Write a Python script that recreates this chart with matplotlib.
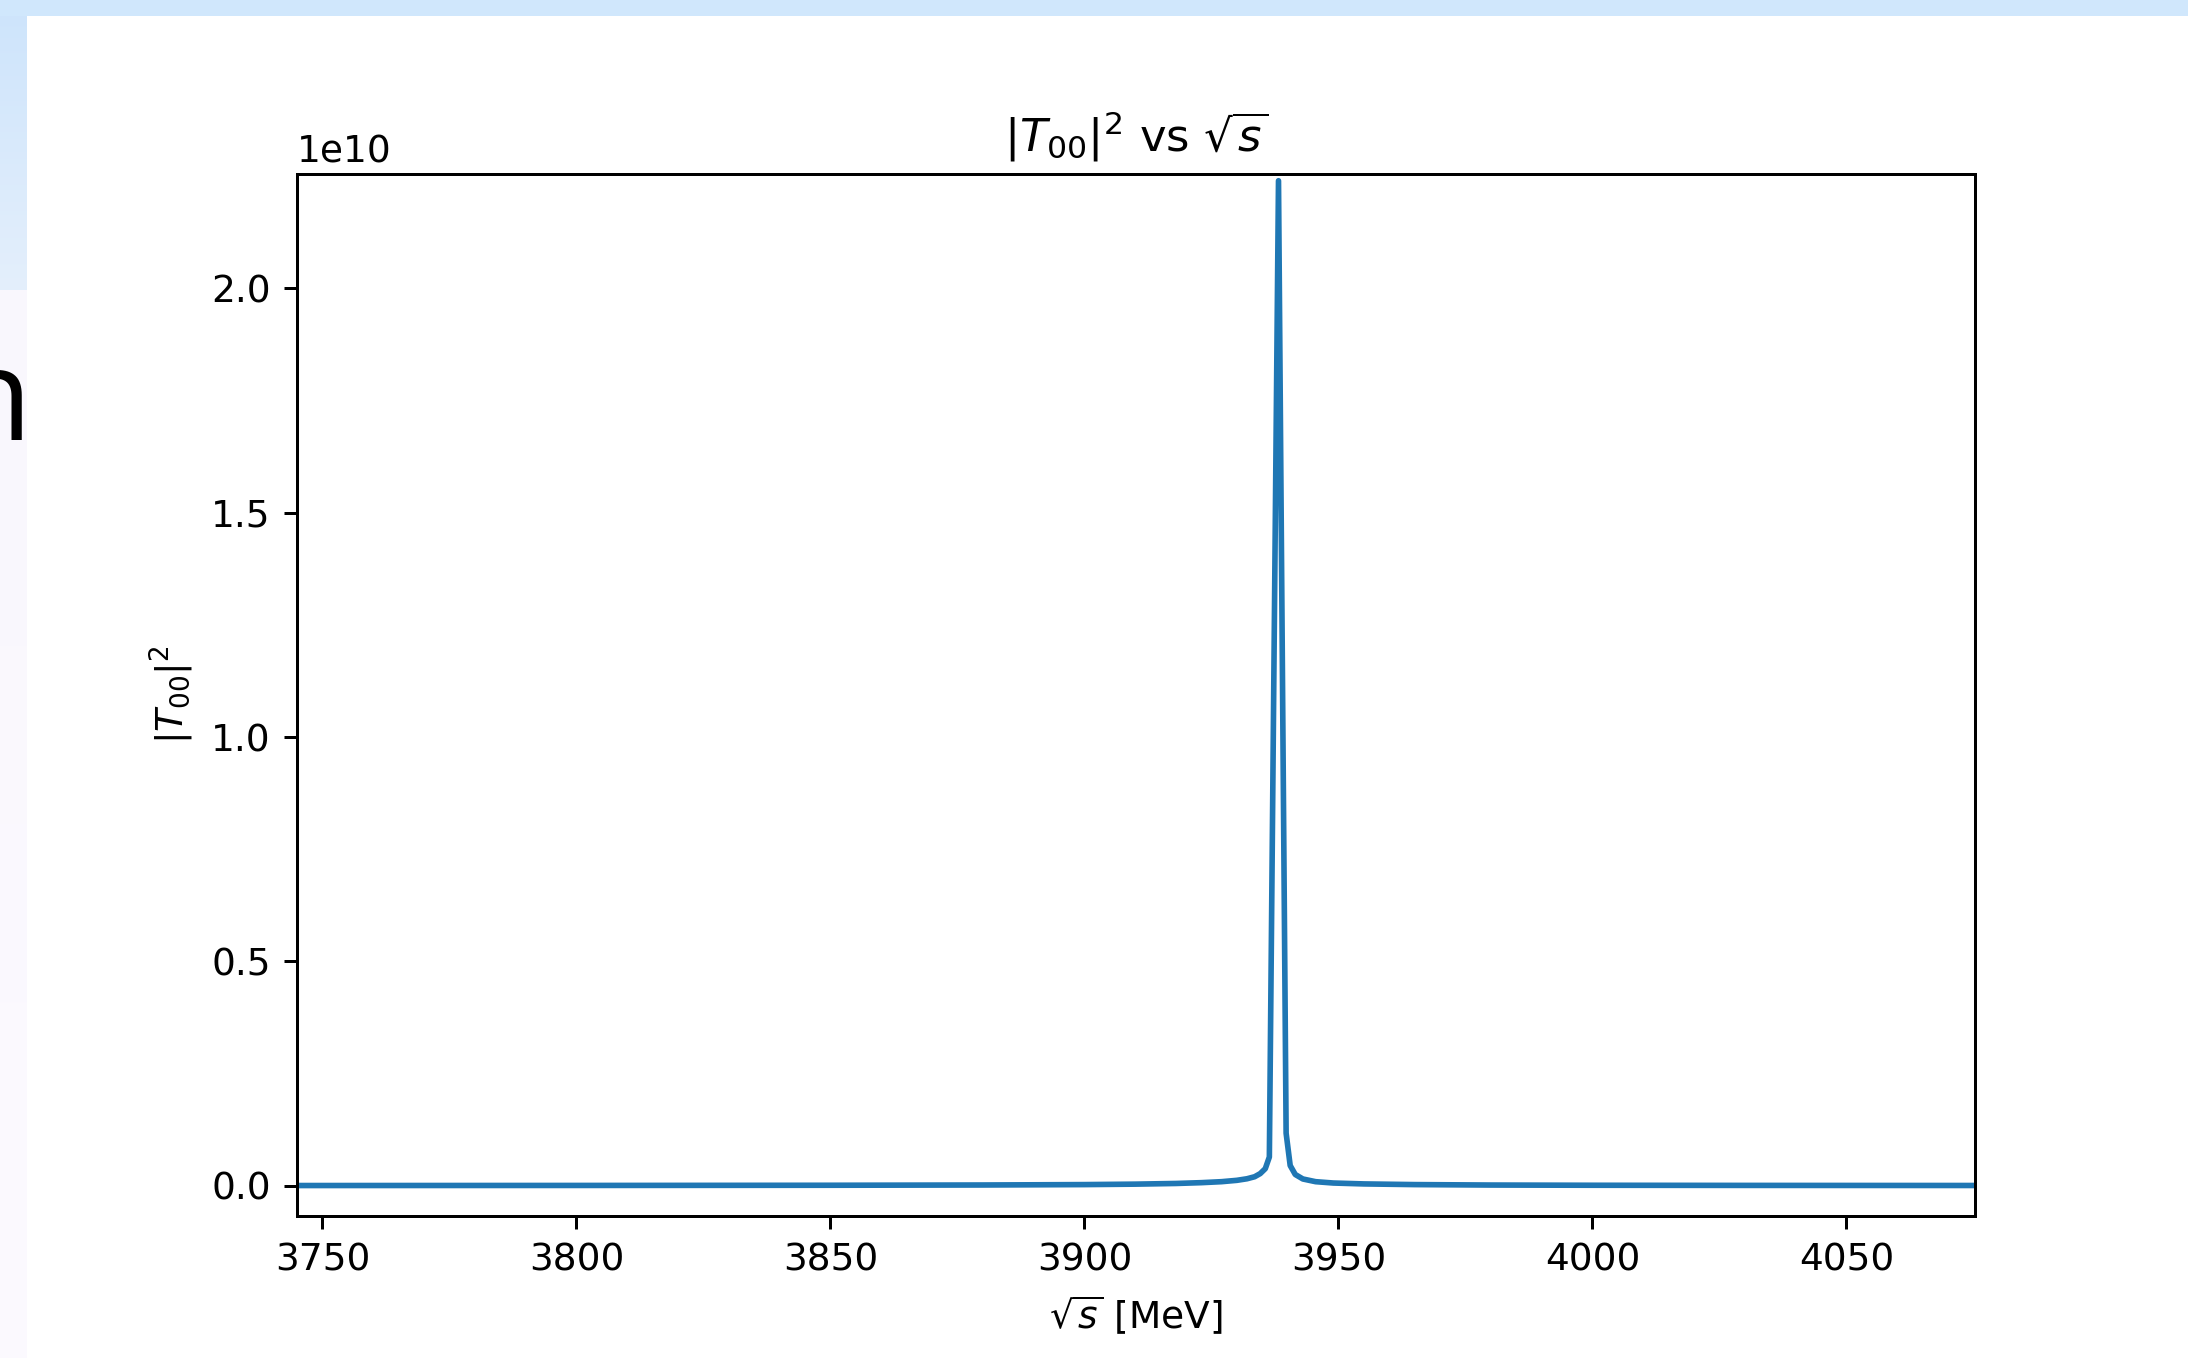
import numpy as np
import matplotlib
matplotlib.use("Agg")
import matplotlib.pyplot as plt
from matplotlib.patches import Rectangle

# Scan of |T00|^2 across sqrt(s); values in units of 1e10
sqrt_s = [3745, 3800, 3850, 3880, 3900, 3910, 3918, 3923, 3927, 3930,
          3932, 3933.5, 3934.6, 3935.6, 3936.4, 3938.2, 3939.7, 3940.5,
          3941.5, 3943, 3945.5, 3949, 3955, 3965, 3980, 4000, 4030, 4075]
t00_sq = [0.0004, 0.0006, 0.0010, 0.0016, 0.0025, 0.0035, 0.0050, 0.0068,
          0.0090, 0.0120, 0.0155, 0.0200, 0.0270, 0.0380, 0.0640, 2.2400,
          0.1170, 0.0450, 0.0250, 0.0150, 0.0090, 0.0060, 0.0040, 0.0025,
          0.0015, 0.0010, 0.0007, 0.0005]

W, H, DPI = 2188, 1358, 270
fig = plt.figure(figsize=(W / DPI, H / DPI), dpi=DPI, facecolor="white")

# slide backdrop: left strip with a soft blue gradient and a heading letter
strip = fig.add_axes([0, 0, 27 / W, 1])
strip.set_axis_off()
rows = H
grad = np.ones((rows, 1, 3))
cut = 290
top_c = np.array([205, 228, 251]) / 255
mid_c = np.array([228, 239, 252]) / 255
low_c = np.array([249, 247, 253]) / 255
bot_c = np.array([252, 250, 255]) / 255
for i in range(rows):
    if i < cut:
        t = i / cut
        grad[i, 0] = top_c * (1 - t) + mid_c * t
    else:
        t = (i - cut) / (rows - cut)
        grad[i, 0] = low_c * (1 - t) + bot_c * t
strip.imshow(grad, extent=[0, 1, 0, 1], aspect="auto", origin="upper")
strip.set_xlim(0, 1)
strip.set_ylim(0, 1)
strip.text(31 / 27, 1 - 440 / H, "n", fontsize=34, family="Open Sans",
           ha="right", va="baseline", color="black", clip_on=True)

fig.add_artist(Rectangle((0, 1 - 16 / H), 1, 16 / H, transform=fig.transFigure,
                         facecolor="#d0e7fc", edgecolor="none", zorder=5))

ax = fig.add_axes([297 / W, 1 - 1216 / H, (1975 - 297) / W, (1216 - 174) / H])
ax.plot(sqrt_s, np.array(t00_sq) * 1e10, color="#1f77b4", linewidth=1.5)
ax.set_xlim(3745, 4075.3)
ax.set_ylim(-0.0675e10, 2.255e10)
ax.set_title(r"$|T_{00}|^2$ vs $\sqrt{s}$")
ax.set_xlabel(r"$\sqrt{s}$ [MeV]")
ax.set_ylabel(r"$|T_{00}|^2$")

fig.savefig("out.png", dpi=DPI, facecolor="white")
